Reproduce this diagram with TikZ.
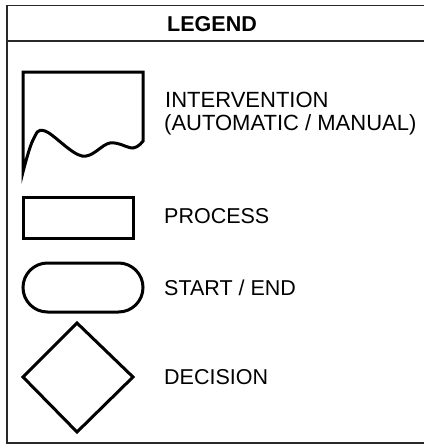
\documentclass[tikz,border=0pt]{standalone}
\usepackage{fontspec}
\setmainfont{Liberation Sans}
\usepackage{xcolor}
\definecolor{lgdblack}{RGB}{0,0,0}
\definecolor{lgdframe}{RGB}{40,40,40}
\usetikzlibrary{positioning}

\newcommand{\lgdfont}{\fontsize{21.5}{23}\selectfont}

\tikzset{
  lgdshape/.style={draw=lgdblack, line width=3pt, line join=miter},
  lgdtext/.style={font=\lgdfont, inner sep=0pt, anchor=base west, align=left},
}

\begin{document}
\begin{tikzpicture}[x=1pt, y=-1pt]
  \useasboundingbox (0,0) rectangle (423,444);

  % Frame and header
  \draw[draw=lgdframe, line width=1.8pt] (430,5.5) -- (7,5.5) -- (7,443) -- (430,443);
  \draw[draw=lgdframe, line width=1.8pt] (7,41) -- (430,41);
  \node[font=\lgdfont\bfseries, inner sep=0pt, anchor=base] (title) at (212,32) {LEGEND};

  % Intervention (wavy document)
  \draw[lgdshape] plot[smooth, tension=0.6] coordinates {(143,141) (133,148) (110,143) (82,156) (45,131) (33,140) (23,172)}
       -- (23,72) -- (143,72) -- cycle;
  \node[lgdtext, font=\fontsize{22}{23}\selectfont] (intervention) at (165,107) {INTERVENTION};
  \node[lgdtext, font=\fontsize{22}{23}\selectfont] (intervmode) at (164,130) {(AUTOMATIC / MANUAL)};

  % Process
  \draw[lgdshape] (23,197) rectangle (133,238);
  \node[lgdtext] (process) at (164,223) {PROCESS};

  % Start / End
  \draw[lgdshape, rounded corners=24.5pt] (23,263) rectangle (143,312);
  \node[lgdtext] (startend) at (164,295) {START / END};

  % Decision
  \draw[lgdshape] (77,323) -- (133,377) -- (77,432) -- (23,377) -- cycle;
  \node[lgdtext] (decision) at (164,384) {DECISION};
\end{tikzpicture}
\end{document}
